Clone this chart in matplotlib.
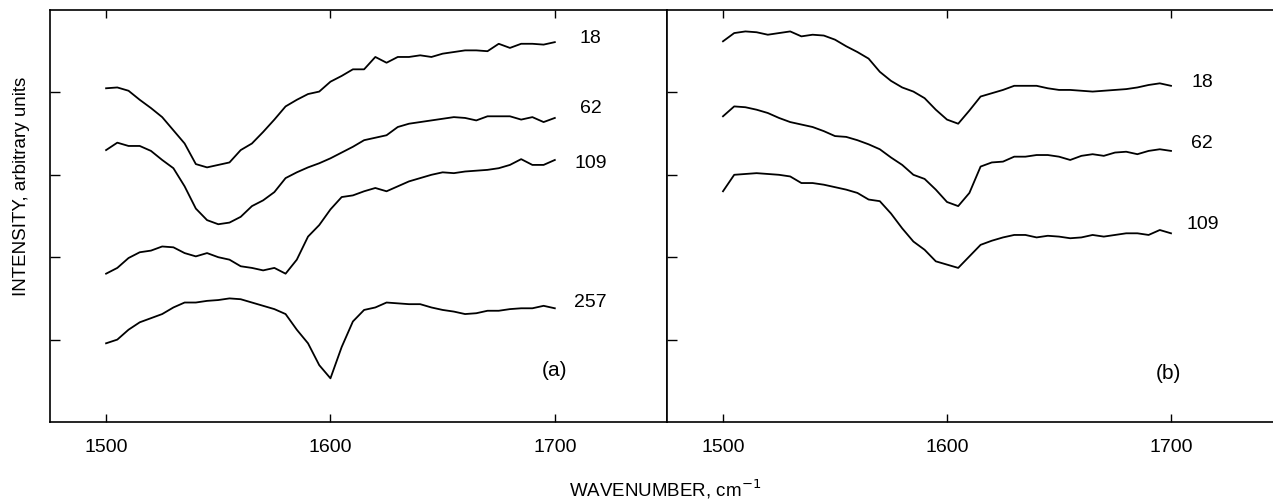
import numpy as np
import matplotlib
matplotlib.use('Agg')
from matplotlib import pyplot as plt

plt.rcParams['font.family'] = ['Liberation Sans', 'DejaVu Sans']

# wavenumber grid (cm-1)
wn = np.arange(1500, 1705, 5)

# panel (a)
a_labels = ['18', '62', '109', '257']
a_18 = [4.05, 4.06, 4.02, 3.91, 3.81, 3.70, 3.54, 3.38, 3.13, 3.09, 3.12, 3.15, 3.30, 3.38, 3.52, 3.67, 3.83, 3.91, 3.98, 4.01,
        4.13, 4.20, 4.28, 4.28, 4.43, 4.36, 4.43, 4.43, 4.45, 4.43, 4.47, 4.49, 4.51, 4.51, 4.50, 4.59, 4.54, 4.59, 4.59, 4.58, 4.61]
a_62 = [3.30, 3.39, 3.35, 3.35, 3.29, 3.18, 3.08, 2.86, 2.59, 2.45, 2.40, 2.42, 2.49, 2.62, 2.69, 2.79, 2.96, 3.03, 3.09, 3.14,
        3.20, 3.27, 3.34, 3.42, 3.45, 3.48, 3.58, 3.62, 3.64, 3.66, 3.68, 3.70, 3.69, 3.66, 3.71, 3.71, 3.71, 3.67, 3.70, 3.64, 3.69]
a_109 = [1.80, 1.87, 1.99, 2.06, 2.08, 2.13, 2.12, 2.05, 2.01, 2.05, 2.00, 1.97, 1.89, 1.87, 1.84, 1.87, 1.80, 1.97, 2.25, 2.39,
         2.58, 2.73, 2.75, 2.80, 2.84, 2.80, 2.86, 2.92, 2.96, 3.00, 3.03, 3.02, 3.04, 3.05, 3.06, 3.08, 3.12, 3.19, 3.12, 3.12, 3.18]
a_257 = [0.955, 1.00, 1.12, 1.21, 1.26, 1.31, 1.39, 1.45, 1.45, 1.47, 1.48, 1.50, 1.49, 1.45, 1.41, 1.37, 1.31, 1.12, 0.955, 0.69,
         0.53, 0.91, 1.22, 1.36, 1.39, 1.45, 1.44, 1.43, 1.43, 1.39, 1.36, 1.34, 1.31, 1.32, 1.35, 1.35, 1.37, 1.38, 1.38, 1.41, 1.38]
a_label_y = [4.66, 3.81, 3.14, 1.45]

# panel (b)
b_labels = ['18', '62', '109']
b_18 = [4.62, 4.72, 4.74, 4.73, 4.70, 4.72, 4.74, 4.68, 4.70, 4.69, 4.64, 4.56, 4.49, 4.41, 4.25, 4.14, 4.06, 4.01, 3.93, 3.79,
        3.67, 3.62, 3.78, 3.95, 3.99, 4.03, 4.08, 4.08, 4.08, 4.05, 4.03, 4.03, 4.02, 4.01, 4.02, 4.03, 4.04, 4.06, 4.09, 4.11, 4.08]
b_62 = [3.71, 3.83, 3.82, 3.79, 3.75, 3.69, 3.64, 3.61, 3.58, 3.53, 3.47, 3.46, 3.42, 3.37, 3.31, 3.21, 3.12, 3.00, 2.95, 2.82,
        2.67, 2.62, 2.78, 3.10, 3.15, 3.16, 3.22, 3.22, 3.24, 3.24, 3.22, 3.18, 3.23, 3.25, 3.23, 3.27, 3.28, 3.25, 3.29, 3.31, 3.29]
b_109 = [2.80, 3.00, 3.01, 3.02, 3.01, 3.00, 2.98, 2.90, 2.90, 2.88, 2.85, 2.82, 2.78, 2.70, 2.68, 2.53, 2.35, 2.19, 2.09, 1.95,
         1.91, 1.87, 2.01, 2.15, 2.20, 2.24, 2.27, 2.27, 2.24, 2.26, 2.25, 2.23, 2.24, 2.27, 2.25, 2.27, 2.29, 2.29, 2.27, 2.33, 2.29]
b_label_y = [4.12, 3.38, 2.40]

xticks = [1500, 1600, 1700]

fig = plt.figure(figsize=(12.73, 5.04), dpi=100)
ax1 = fig.add_axes([50 / 1273, 82 / 504, 617 / 1273, 412 / 504])
ax2 = fig.add_axes([667 / 1273, 82 / 504, 616 / 1273, 412 / 504])


def style(ax, right_spine=True):
    ax.set_xlim(1475, 1750)
    ax.set_ylim(0, 5)
    ax.set_xticks(xticks)
    ax.set_yticks([1, 2, 3, 4])
    ax.set_yticklabels([])
    ax.tick_params(axis='x', direction='in', top=True, length=6, width=1, labelsize=14, pad=12)
    ax.tick_params(axis='y', direction='in', left=True, right=False, length=7, width=1)
    for s in ax.spines.values():
        s.set_linewidth(1.2)
    ax.spines['right'].set_visible(right_spine)


style(ax1)
style(ax2, right_spine=False)

for y, lab, ly in zip([a_18, a_62, a_109, a_257], a_labels, a_label_y):
    ax1.plot(wn, y, color='black', lw=1.3)
    ax1.text(1716, ly, lab, fontsize=14, ha='center', va='center')
ax1.text(1700, 0.63, '(a)', fontsize=15, ha='center', va='center')

for y, lab, ly in zip([b_18, b_62, b_109], b_labels, b_label_y):
    ax2.plot(wn, y, color='black', lw=1.3)
    ax2.text(1714, ly, lab, fontsize=14, ha='center', va='center')
ax2.text(1699, 0.59, '(b)', fontsize=15, ha='center', va='center')

fig.text(22 / 1273, 1 - 186 / 504, 'INTENSITY, arbitrary units', rotation=90,
         fontsize=13.5, ha='center', va='center')
fig.text(665 / 1273, 3 / 504, 'WAVENUMBER, cm$^{-1}$', fontsize=13.5, ha='center', va='bottom')

fig.savefig('out.png', dpi=100)
